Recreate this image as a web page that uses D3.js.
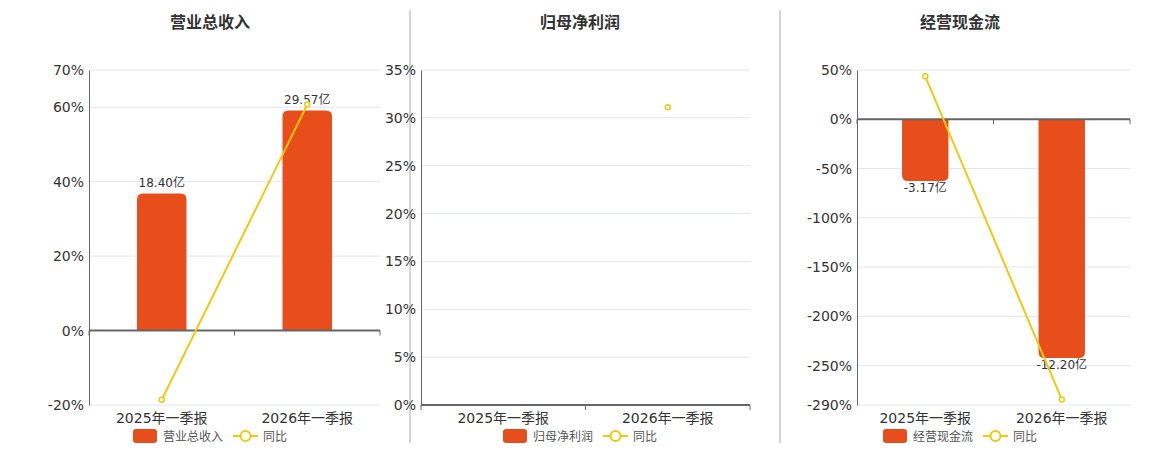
<!DOCTYPE html>
<html>
<head>
<meta charset="utf-8">
<script src="https://cdn.jsdelivr.net/npm/d3@7"></script>
<style>
  body { margin: 0; background: #fff; }
  svg { display: block; font-family: "DejaVu Sans", "Noto Sans CJK SC", sans-serif; }
</style>
</head>
<body>
<svg id="mainFrame" width="1160" height="450"></svg>
<script>
// categories + values (bars in 亿, lines in %)
const categories = ["2025年一季报", "2026年一季报"];

const titles = ["营业总收入", "归母净利润", "经营现金流"];

const revenue = [18.40, 29.57];
const revenueYoy = [-18.6, 60.7];
const revenueTicks = [-20, 0, 20, 40, 60, 70];
const revenueBarAxis = [-10.05, 35];

const profit = [null, null];
const profitYoy = [null, 31.1];
const profitTicks = [0, 5, 10, 15, 20, 25, 30, 35];
const profitBarAxis = [0, 1];

const cashflow = [-3.17, -12.20];
const cashflowYoy = [43.6, -284.3];
const cashflowTicks = [-290, -250, -200, -150, -100, -50, 0, 50];
const cashflowBarAxis = [-14.6, 2.5];

const barColor = "#e84d1c";
const lineColor = "#f2c80f";

const svg = d3.select("#mainFrame");

// separators between the three panels
svg.selectAll("line.sep")
    .data([410, 780])
    .join("line")
    .attr("x1", d => d).attr("x2", d => d)
    .attr("y1", 10).attr("y2", 443)
    .attr("stroke", "#aaa");

function panel(opts) {
    const g = svg.append("g");
    const top = 70, bottom = 405;

    const y = d3.scaleLinear()
        .domain(d3.extent(opts.ticks))
        .range([bottom, top]);
    const yBar = d3.scaleLinear()
        .domain(opts.barAxis)
        .range([bottom, top]);
    const x = d3.scaleBand()
        .domain(categories)
        .range([opts.left, opts.right]);
    const zero = y(0);

    // title
    g.append("text")
        .attr("x", opts.mid).attr("y", 28)
        .attr("text-anchor", "middle")
        .attr("font-size", 16).attr("font-weight", "bold")
        .attr("fill", "#333")
        .text(opts.title);

    // grid
    g.selectAll("line.grid")
        .data(opts.ticks)
        .join("line")
        .attr("x1", opts.left).attr("x2", opts.right)
        .attr("y1", d => y(d)).attr("y2", d => y(d))
        .attr("stroke", "#e1e5f0");

    // y axis
    const yAxis = g.append("g")
        .attr("transform", `translate(${opts.left},0)`)
        .call(d3.axisLeft(y).tickValues(opts.ticks).tickSize(0).tickPadding(5).tickFormat(d => d + "%"));
    yAxis.select(".domain").attr("stroke", "#666");
    yAxis.selectAll("text").attr("font-size", 14).attr("fill", "#333")
        .attr("font-family", "DejaVu Sans");

    // bars
    const bw = x.bandwidth() * 0.34, r = 6;
    g.selectAll("path.bar")
        .data(opts.bars.map((v, i) => ({v, c: categories[i]})).filter(d => d.v != null))
        .join("path")
        .attr("fill", barColor)
        .attr("d", d => {
            const x0 = x(d.c) + (x.bandwidth() - bw) / 2, x1 = x0 + bw;
            const y0 = yBar(0), y1 = yBar(d.v);
            const s = y1 < y0 ? 1 : -1;
            return `M${x0},${y0}V${y1 + s * r}Q${x0},${y1} ${x0 + r},${y1}H${x1 - r}Q${x1},${y1} ${x1},${y1 + s * r}V${y0}Z`;
        });

    g.selectAll("text.val")
        .data(opts.bars.map((v, i) => ({v, c: categories[i]})).filter(d => d.v != null))
        .join("text")
        .attr("x", d => x(d.c) + x.bandwidth() / 2)
        .attr("y", d => d.v >= 0 ? yBar(d.v) - 6 : yBar(d.v) + 11)
        .attr("text-anchor", "middle")
        .attr("font-size", 12).attr("fill", "#333")
        .text(d => d.v.toFixed(2) + "亿");

    // zero line + boundary ticks
    g.append("line")
        .attr("x1", opts.left).attr("x2", opts.right)
        .attr("y1", zero).attr("y2", zero)
        .attr("stroke", "#666").attr("stroke-width", 2);
    g.selectAll("line.xt")
        .data([0, 1, 2].map(i => opts.left + i * x.step()))
        .join("line")
        .attr("x1", d => d).attr("x2", d => d)
        .attr("y1", zero).attr("y2", zero + 5)
        .attr("stroke", "#666");

    // category labels
    const xAxis = g.append("g")
        .attr("transform", `translate(0,${bottom})`)
        .call(d3.axisBottom(x).tickSize(0).tickPadding(8));
    xAxis.select(".domain").remove();
    xAxis.selectAll("text").attr("font-size", 14).attr("fill", "#333")
        .attr("font-family", "DejaVu Sans, Noto Sans CJK SC");

    // yoy line
    const pts = opts.yoy.map((v, i) => ({v, c: categories[i]}));
    const line = d3.line()
        .defined(d => d.v != null)
        .x(d => x(d.c) + x.bandwidth() / 2)
        .y(d => y(d.v));
    g.append("path")
        .attr("d", line(pts))
        .attr("fill", "none")
        .attr("stroke", lineColor).attr("stroke-width", 2);
    g.selectAll("circle.pt")
        .data(pts.filter(d => d.v != null))
        .join("circle")
        .attr("cx", d => x(d.c) + x.bandwidth() / 2)
        .attr("cy", d => y(d.v))
        .attr("r", 2.5)
        .attr("fill", "#fff")
        .attr("stroke", lineColor).attr("stroke-width", 1.5);

    // legend
    const lg = g.append("g").attr("transform", `translate(${opts.mid},436)`);
    lg.append("rect")
        .attr("x", -77).attr("y", -7).attr("width", 24).attr("height", 14)
        .attr("rx", 3).attr("fill", barColor);
    lg.append("text")
        .attr("x", -47).attr("y", 4.5)
        .attr("font-size", 12).attr("fill", "#555")
        .text(opts.title);
    lg.append("line")
        .attr("x1", 23).attr("x2", 48).attr("y1", 0).attr("y2", 0)
        .attr("stroke", lineColor).attr("stroke-width", 2);
    lg.append("circle")
        .attr("cx", 35.5).attr("cy", 0).attr("r", 5)
        .attr("fill", "#fff").attr("stroke", lineColor).attr("stroke-width", 2);
    lg.append("text")
        .attr("x", 53).attr("y", 4.5)
        .attr("font-size", 12).attr("fill", "#555")
        .text("同比");
}

panel({title: titles[0], left: 89, right: 380, mid: 210,
    ticks: revenueTicks, barAxis: revenueBarAxis, bars: revenue, yoy: revenueYoy});
panel({title: titles[1], left: 421, right: 750, mid: 580,
    ticks: profitTicks, barAxis: profitBarAxis, bars: profit, yoy: profitYoy});
panel({title: titles[2], left: 857, right: 1130, mid: 960,
    ticks: cashflowTicks, barAxis: cashflowBarAxis, bars: cashflow, yoy: cashflowYoy});
</script>
</body>
</html>
